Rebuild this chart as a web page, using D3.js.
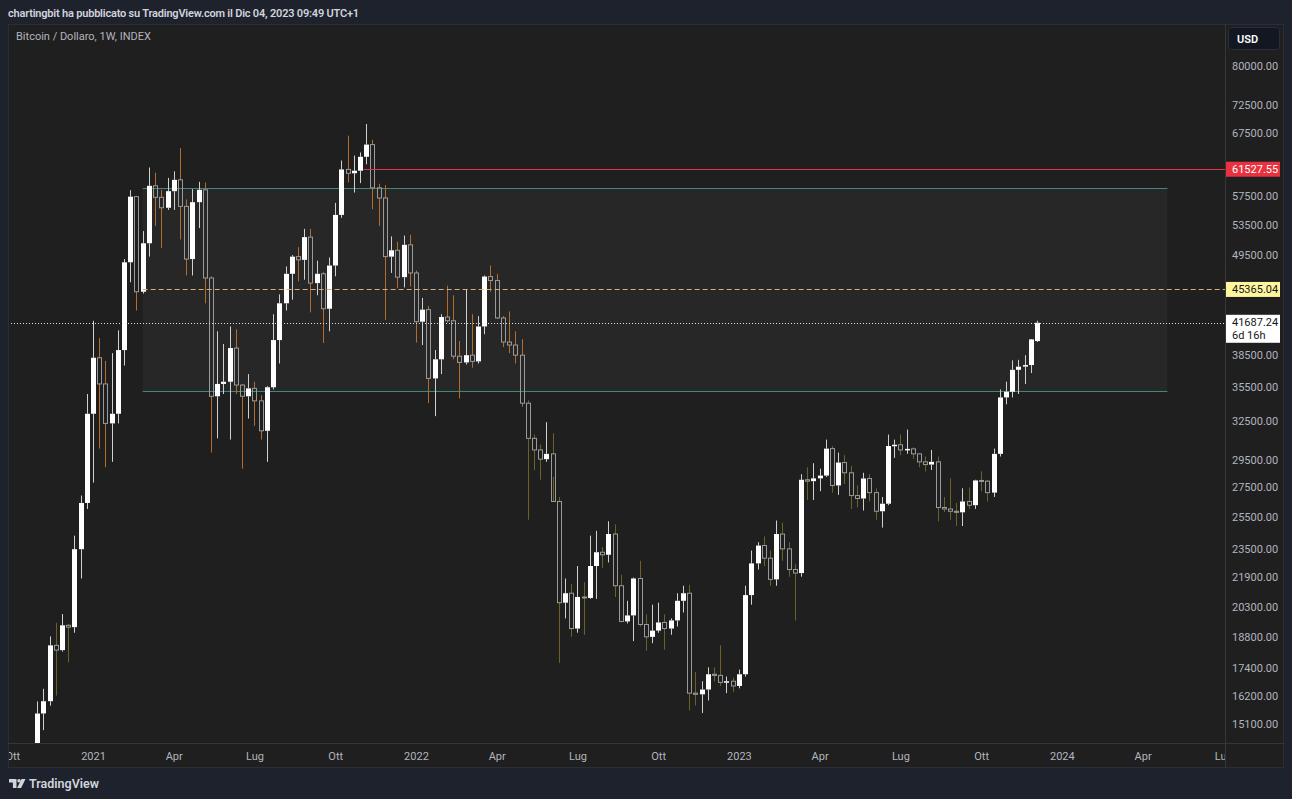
<!DOCTYPE html>
<html>
<head>
<meta charset="utf-8">
<script src="https://cdnjs.cloudflare.com/ajax/libs/d3/7.8.5/d3.min.js"></script>
<style>
    html, body { margin: 0; padding: 0; background: #1e222d; overflow: hidden; }
    svg { display: block; }
</style>
</head>
<body>
<div id="chart"></div>
<script>
"use strict";
(function () {
    // weekly candles: [week start, open, high, low, close]
    const candles2020 = [
        ["2020-11-02", 13760, 15960, 13210, 15480],
        ["2020-11-09", 15480, 16480, 14840, 15970],
        ["2020-11-16", 15970, 18820, 15790, 18400],
        ["2020-11-23", 18400, 19480, 16200, 18180],
        ["2020-11-30", 18180, 19920, 18110, 19360],
        ["2020-12-07", 19360, 19420, 17620, 19270],
        ["2020-12-14", 19270, 24300, 19000, 23480],
        ["2020-12-21", 23480, 26900, 21800, 26400],
        ["2020-12-28", 26400, 34800, 26000, 33100]
    ]
    const candles2021 = [
        ["2021-01-04", 33100, 41900, 27800, 38150],
        ["2021-01-11", 38150, 40100, 30300, 35700],
        ["2021-01-18", 35700, 37850, 28900, 32300],
        ["2021-01-25", 32300, 38600, 29300, 33100],
        ["2021-02-01", 33100, 40900, 32300, 38900],
        ["2021-02-08", 38900, 49000, 37400, 48600],
        ["2021-02-15", 48600, 58350, 46200, 57400],
        ["2021-02-22", 57400, 57500, 43000, 45100],
        ["2021-03-01", 45100, 52600, 44900, 51000],
        ["2021-03-08", 51000, 61800, 49300, 59000],
        ["2021-03-15", 59000, 61000, 53300, 57300],
        ["2021-03-22", 57300, 58400, 50400, 55800],
        ["2021-03-29", 55800, 60200, 55500, 58200],
        ["2021-04-05", 58200, 61200, 55500, 59900],
        ["2021-04-12", 59900, 64900, 51500, 56000],
        ["2021-04-19", 56000, 57000, 47000, 49000],
        ["2021-04-26", 49000, 58500, 47000, 56600],
        ["2021-05-03", 56600, 59600, 53000, 58400],
        ["2021-05-10", 58400, 59500, 43800, 46700],
        ["2021-05-17", 46700, 46900, 30000, 34600],
        ["2021-05-24", 34600, 40800, 31100, 35700],
        ["2021-05-31", 35700, 39500, 34800, 35900],
        ["2021-06-07", 35900, 41300, 31000, 39100],
        ["2021-06-14", 39100, 41000, 34800, 35600],
        ["2021-06-21", 35600, 35700, 28800, 34600],
        ["2021-06-28", 34600, 36600, 32700, 35300],
        ["2021-07-05", 35300, 35900, 32100, 34200],
        ["2021-07-12", 34200, 34700, 31000, 31700],
        ["2021-07-19", 31700, 35500, 29300, 35400],
        ["2021-07-26", 35400, 42600, 35200, 39900],
        ["2021-08-02", 39900, 44800, 37600, 43800],
        ["2021-08-09", 43800, 48100, 43000, 47200],
        ["2021-08-16", 47200, 49500, 44200, 49300],
        ["2021-08-23", 49300, 50500, 46300, 48900],
        ["2021-08-30", 48900, 52900, 46500, 51800],
        ["2021-09-06", 51800, 52900, 42800, 46100],
        ["2021-09-13", 46100, 48800, 44700, 47200],
        ["2021-09-20", 47200, 47400, 39600, 43200],
        ["2021-09-27", 43200, 49200, 40800, 48200],
        ["2021-10-04", 48200, 56500, 46900, 54800],
        ["2021-10-11", 54800, 62900, 54400, 61500],
        ["2021-10-18", 61500, 67000, 59500, 60900],
        ["2021-10-25", 60900, 63700, 58000, 61300],
        ["2021-11-01", 61300, 64200, 59400, 63500],
        ["2021-11-08", 63500, 69000, 62300, 65500],
        ["2021-11-15", 65500, 66300, 55600, 58700],
        ["2021-11-22", 58700, 59300, 53300, 57200],
        ["2021-11-29", 57200, 59100, 42000, 49300],
        ["2021-12-06", 49300, 51900, 47300, 50100],
        ["2021-12-13", 50100, 51200, 45500, 46800],
        ["2021-12-20", 46800, 52000, 45600, 50800],
        ["2021-12-27", 50800, 52100, 45700, 47300]
    ]
    const candles2022 = [
        ["2022-01-03", 47300, 47600, 39650, 41800],
        ["2022-01-10", 41800, 44400, 39400, 43100],
        ["2022-01-17", 43100, 43500, 34000, 36200],
        ["2022-01-24", 36200, 38900, 32900, 38000],
        ["2022-01-31", 38000, 42600, 36600, 42300],
        ["2022-02-07", 42300, 45800, 41700, 41900],
        ["2022-02-14", 41900, 44700, 38000, 38300],
        ["2022-02-21", 38300, 39800, 34400, 37700],
        ["2022-02-28", 37700, 45400, 37500, 38400],
        ["2022-03-07", 38400, 42600, 37200, 37800],
        ["2022-03-14", 37800, 42400, 37600, 41300],
        ["2022-03-21", 41300, 47000, 40500, 46870],
        ["2022-03-28", 46870, 48200, 45100, 46400],
        ["2022-04-04", 46400, 47200, 42100, 42200],
        ["2022-04-11", 42200, 42400, 39200, 39700],
        ["2022-04-18", 39700, 42900, 38600, 39400],
        ["2022-04-25", 39400, 40800, 37600, 38400],
        ["2022-05-02", 38400, 40000, 33700, 34000],
        ["2022-05-09", 34000, 34250, 25300, 31100],
        ["2022-05-16", 31100, 31400, 28700, 30200],
        ["2022-05-23", 30200, 30600, 28000, 29500],
        ["2022-05-30", 29500, 32400, 29300, 29900],
        ["2022-06-06", 29900, 31500, 28200, 26500],
        ["2022-06-13", 26500, 26800, 17600, 20500],
        ["2022-06-20", 20500, 21800, 19700, 21000],
        ["2022-06-27", 21000, 21500, 18800, 19200],
        ["2022-07-04", 19200, 22500, 19000, 20800],
        ["2022-07-11", 20800, 21600, 18900, 20750],
        ["2022-07-18", 20750, 24300, 20700, 22500],
        ["2022-07-25", 22500, 24600, 20700, 23300],
        ["2022-08-01", 23300, 23600, 22400, 23150],
        ["2022-08-08", 23150, 25200, 22700, 24400],
        ["2022-08-15", 24400, 25000, 20800, 21400],
        ["2022-08-22", 21400, 22000, 19500, 19550],
        ["2022-08-29", 19550, 20600, 19450, 19850],
        ["2022-09-05", 19850, 21850, 18600, 21800],
        ["2022-09-12", 21800, 22800, 19300, 19400],
        ["2022-09-19", 19400, 19900, 18150, 18800],
        ["2022-09-26", 18800, 20400, 18500, 19100],
        ["2022-10-03", 19100, 20500, 19000, 19500],
        ["2022-10-10", 19500, 19900, 18200, 19200],
        ["2022-10-17", 19200, 19700, 18900, 19600],
        ["2022-10-24", 19600, 21000, 19300, 20600],
        ["2022-10-31", 20600, 21400, 20000, 21000],
        ["2022-11-07", 21000, 21450, 15600, 16300],
        ["2022-11-14", 16300, 17200, 15800, 16250],
        ["2022-11-21", 16250, 16800, 15500, 16450],
        ["2022-11-28", 16450, 17400, 16000, 17100],
        ["2022-12-05", 17100, 17400, 16800, 17050],
        ["2022-12-12", 17050, 18400, 16600, 16750],
        ["2022-12-19", 16750, 17000, 16300, 16800],
        ["2022-12-26", 16800, 16950, 16350, 16600]
    ]
    const candles2023 = [
        ["2023-01-02", 16600, 17300, 16500, 17100],
        ["2023-01-09", 17100, 21400, 17000, 20900],
        ["2023-01-16", 20900, 23400, 20400, 22650],
        ["2023-01-23", 22650, 23900, 22300, 23700],
        ["2023-01-30", 23700, 24250, 22500, 22950],
        ["2023-02-06", 22950, 23400, 21400, 21750],
        ["2023-02-13", 21750, 25250, 21400, 24400],
        ["2023-02-20", 24400, 25100, 22800, 23500],
        ["2023-02-27", 23500, 23900, 21900, 22300],
        ["2023-03-06", 22300, 22600, 19600, 22100],
        ["2023-03-13", 22100, 28400, 21900, 28000],
        ["2023-03-20", 28000, 28900, 26600, 27900],
        ["2023-03-27", 27900, 29200, 26600, 28100],
        ["2023-04-03", 28100, 28800, 27200, 28300],
        ["2023-04-10", 28300, 31000, 28200, 30300],
        ["2023-04-17", 30300, 30500, 27100, 27600],
        ["2023-04-24", 27600, 30000, 26950, 29250],
        ["2023-05-01", 29250, 29800, 27700, 28500],
        ["2023-05-08", 28500, 29000, 26000, 26900],
        ["2023-05-15", 26900, 27600, 26100, 26700],
        ["2023-05-22", 26700, 28500, 25900, 28090],
        ["2023-05-29", 28090, 28400, 26500, 27100],
        ["2023-06-05", 27100, 27400, 25300, 25850],
        ["2023-06-12", 25850, 26800, 24800, 26350],
        ["2023-06-19", 26350, 31400, 26250, 30500],
        ["2023-06-26", 30500, 31000, 29600, 30600],
        ["2023-07-03", 30600, 31400, 29800, 30200],
        ["2023-07-10", 30200, 31800, 29900, 30280],
        ["2023-07-17", 30280, 30400, 29500, 29900],
        ["2023-07-24", 29900, 29950, 28900, 29300],
        ["2023-07-31", 29300, 29700, 28600, 29100],
        ["2023-08-07", 29100, 30200, 28700, 29300],
        ["2023-08-14", 29300, 29700, 25200, 26100],
        ["2023-08-21", 26100, 26800, 25800, 26000],
        ["2023-08-28", 26000, 28100, 25300, 25850],
        ["2023-09-04", 25850, 26400, 24900, 25780],
        ["2023-09-11", 25780, 27400, 24900, 26500],
        ["2023-09-18", 26500, 27450, 26000, 26250],
        ["2023-09-25", 26250, 28000, 26000, 27950],
        ["2023-10-02", 27950, 28600, 27200, 27900],
        ["2023-10-09", 27900, 28000, 26500, 27100],
        ["2023-10-16", 27100, 30300, 26800, 29900],
        ["2023-10-23", 29900, 35200, 29700, 34500],
        ["2023-10-30", 34500, 35900, 33900, 35000],
        ["2023-11-06", 35000, 37900, 34500, 37000],
        ["2023-11-13", 37000, 37950, 34800, 37300],
        ["2023-11-20", 37300, 38400, 35700, 37450],
        ["2023-11-27", 37450, 38500, 36700, 39970],
        ["2023-12-04", 39800, 41900, 39700, 41687.24]
    ]

    // drawn levels
    const lastPrice = 41687.24
    const lastCountdown = "6d 16h"
    const redLevel = 61527.55
    const redStart = "2021-11-05"
    const dashedLevel = 45365.04
    const dashedStart = "2021-03-01"
    const zoneTop = 58700
    const zoneBottom = 35050
    const zoneStart = "2021-03-01"
    const zoneEnd = "2024-04-29"

    // axes
    const priceTicks = [80000, 72500, 67500, 57500, 53500, 49500, 38500, 35500, 32500,
        29500, 27500, 25500, 23500, 21900, 20300, 18800, 17400, 16200, 15100]
    const timeTicks = ["2020-10-05", "2021-01-04", "2021-04-05", "2021-07-05", "2021-10-04",
        "2022-01-03", "2022-04-04", "2022-07-04", "2022-10-03", "2023-01-02", "2023-04-03",
        "2023-07-03", "2023-10-02", "2024-01-01", "2024-04-01", "2024-07-01"]
    const monthNames = ["Gen", "Feb", "Mar", "Apr", "Mag", "Giu", "Lug", "Ago", "Set", "Ott", "Nov", "Dic"]

    const headerText = "chartingbit ha pubblicato su TradingView.com il Dic 04, 2023 09:49 UTC+1"
    const legendText = "Bitcoin / Dollaro, 1W, INDEX"

    const layout = {
        width: 1292,
        height: 799,
        left: 8,
        top: 24,
        paneRight: 1225,
        paneBottom: 744,
        right: 1284,
        bottom: 768
    }

    const colors = {
        page: "#1e222d",
        pane: "#1f1f1f",
        zone: "#272727",
        zoneLine: "#3f8580",
        grid: "#363636",
        axisText: "#b2b5be",
        upBody: "#ffffff",
        upWick: "#d0d0d0",
        downBorder: "#9a9a9a",
        downWickA: "#b46c2a",
        downWickB: "#6c6226",
        red: "#e8323f",
        dashed: "#cdb07a",
        yellowTag: "#fff59d",
        tagText: "#131722"
    }
    const font = "Roboto, 'Noto Sans', sans-serif"

    const candles = [].concat(candles2020, candles2021, candles2022, candles2023)
        .map((r) => ({ date: new Date(r[0]), open: r[1], high: r[2], low: r[3], close: r[4] }))

    const svg = d3.select("#chart").append("svg")
        .attr("width", layout.width)
        .attr("height", layout.height)
        .style("font-family", font)

    // first weekly bar of 2021 sits under the "2021" label
    const scaleX = d3.scaleUtc()
        .domain([new Date("2021-01-04"), new Date("2023-12-04")])
        .range([93, 1037])

    const scaleY = d3.scaleLog()
        .domain([15100, 80000])
        .range([723.3, 65.7])

    // header
    svg.append("text")
        .attr("x", 8).attr("y", 17)
        .attr("fill", "#d1d4dc")
        .style("font-size", "11px")
        .style("font-weight", 600)
        .style("letter-spacing", "-0.2px")
        .text(headerText)

    // chart frame
    svg.append("rect")
        .attr("x", layout.left + 0.5).attr("y", layout.top + 0.5)
        .attr("width", layout.right - layout.left - 1)
        .attr("height", layout.bottom - layout.top - 1)
        .attr("fill", colors.pane)
        .attr("stroke", "#2a2e39")

    const defs = svg.append("defs")
    defs.append("clipPath").attr("id", "paneClip")
        .append("rect")
        .attr("x", layout.left + 1).attr("y", layout.top + 1)
        .attr("width", layout.paneRight - layout.left - 1)
        .attr("height", layout.paneBottom - layout.top - 1)
    defs.append("clipPath").attr("id", "timeClip")
        .append("rect")
        .attr("x", layout.left + 1).attr("y", layout.paneBottom)
        .attr("width", layout.paneRight - layout.left - 1)
        .attr("height", layout.bottom - layout.paneBottom)

    const pane = svg.append("g").attr("clip-path", "url(#paneClip)")

    // zone rectangle
    pane.append("rect")
        .attr("x", scaleX(new Date(zoneStart)))
        .attr("y", scaleY(zoneTop))
        .attr("width", scaleX(new Date(zoneEnd)) - scaleX(new Date(zoneStart)))
        .attr("height", scaleY(zoneBottom) - scaleY(zoneTop))
        .attr("fill", colors.zone)
    ;[zoneTop, zoneBottom].forEach((p) => {
        pane.append("line")
            .attr("x1", scaleX(new Date(zoneStart))).attr("x2", scaleX(new Date(zoneEnd)))
            .attr("y1", Math.round(scaleY(p)) + 0.5).attr("y2", Math.round(scaleY(p)) + 0.5)
            .attr("stroke", colors.zoneLine)
    })

    // candles
    const px = (d) => Math.round(scaleX(d.date))
    const wickColor = function (d) {
        if (d.close >= d.open) return colors.upWick
        return (d.date >= new Date("2021-01-11") && d.date <= new Date("2022-05-02")) ? colors.downWickA : colors.downWickB
    }
    const g = pane.append("g")
    const bars = g.selectAll(".candle")
        .data(candles)
        .enter()
        .append("g")
        .attr("class", "candle")

    bars.append("line")
        .attr("x1", (d) => px(d) + 0.5).attr("x2", (d) => px(d) + 0.5)
        .attr("y1", (d) => scaleY(d.high))
        .attr("y2", (d) => scaleY(Math.max(d.open, d.close)))
        .attr("stroke", wickColor)
    bars.append("line")
        .attr("x1", (d) => px(d) + 0.5).attr("x2", (d) => px(d) + 0.5)
        .attr("y1", (d) => scaleY(Math.min(d.open, d.close)))
        .attr("y2", (d) => scaleY(d.low))
        .attr("stroke", wickColor)

    bars.filter((d) => d.close >= d.open)
        .append("rect")
        .attr("x", (d) => px(d) - 2)
        .attr("y", (d) => scaleY(d.close))
        .attr("width", 5)
        .attr("height", (d) => Math.max(1.5, scaleY(d.open) - scaleY(d.close)))
        .attr("fill", colors.upBody)

    bars.filter((d) => d.close < d.open)
        .append("rect")
        .attr("x", (d) => px(d) - 1.5)
        .attr("y", (d) => scaleY(d.open))
        .attr("width", 4)
        .attr("height", (d) => Math.max(1, scaleY(d.close) - scaleY(d.open)))
        .attr("fill", "none")
        .attr("stroke", colors.downBorder)

    // red level
    pane.append("line")
        .attr("x1", scaleX(new Date(redStart))).attr("x2", layout.paneRight)
        .attr("y1", Math.round(scaleY(redLevel)) + 0.5).attr("y2", Math.round(scaleY(redLevel)) + 0.5)
        .attr("stroke", colors.red)

    // dashed level
    pane.append("line")
        .attr("x1", scaleX(new Date(dashedStart))).attr("x2", layout.paneRight)
        .attr("y1", Math.round(scaleY(dashedLevel)) + 0.5).attr("y2", Math.round(scaleY(dashedLevel)) + 0.5)
        .attr("stroke", colors.dashed)
        .attr("stroke-dasharray", "5,3")

    // last price line
    pane.append("line")
        .attr("x1", layout.left).attr("x2", layout.paneRight)
        .attr("y1", Math.round(scaleY(lastPrice)) + 0.5).attr("y2", Math.round(scaleY(lastPrice)) + 0.5)
        .attr("stroke", "#e0e0e0")
        .attr("stroke-dasharray", "1,2")

    // legend
    svg.append("text")
        .attr("x", 16).attr("y", 40)
        .attr("fill", colors.axisText)
        .style("font-size", "11px")
        .text(legendText)

    // separators
    svg.append("line")
        .attr("x1", layout.paneRight + 0.5).attr("x2", layout.paneRight + 0.5)
        .attr("y1", layout.top).attr("y2", layout.bottom)
        .attr("stroke", colors.grid)
    svg.append("line")
        .attr("x1", layout.left).attr("x2", layout.right)
        .attr("y1", layout.paneBottom - 0.5).attr("y2", layout.paneBottom - 0.5)
        .attr("stroke", colors.grid)

    // price axis
    const yAxis = d3.axisRight(scaleY)
        .tickValues(priceTicks)
        .tickFormat(d3.format(".2f"))
        .tickSize(0)
        .tickPadding(0)
    const yAxisG = svg.append("g")
        .attr("transform", "translate(1232,0)")
        .call(yAxis)
    yAxisG.select(".domain").remove()
    yAxisG.selectAll("text")
        .attr("fill", colors.axisText)
        .attr("dy", "0.35em")
        .style("font-size", "11px")
        .style("font-family", font)

    // time axis
    const xAxis = d3.axisBottom(scaleX)
        .tickValues(timeTicks.map((d) => new Date(d)))
        .tickFormat((d) => d.getUTCMonth() === 0 ? String(d.getUTCFullYear()) : monthNames[d.getUTCMonth()])
        .tickSize(0)
        .tickPadding(0)
    const xAxisG = svg.append("g")
        .attr("clip-path", "url(#timeClip)")
        .append("g")
        .attr("transform", "translate(0,756)")
        .call(xAxis)
    xAxisG.select(".domain").remove()
    xAxisG.selectAll("text")
        .attr("fill", colors.axisText)
        .attr("dy", "0.35em")
        .style("font-size", "11px")
        .style("font-family", font)

    // price tags
    function tag(price, bg, fg, lines) {
        const cy = scaleY(price)
        const h = lines.length > 1 ? 28 : 15
        const top = lines.length > 1 ? cy - 8 : cy - 7.5
        svg.append("rect")
            .attr("x", 1226).attr("y", top)
            .attr("width", 54).attr("height", h)
            .attr("fill", bg)
        lines.forEach((t, i) => {
            svg.append("text")
                .attr("x", 1232).attr("y", top + 7.5 + i * 13)
                .attr("dy", "0.35em")
                .attr("fill", fg)
                .style("font-size", "11px")
                .text(t)
        })
    }
    tag(redLevel, colors.red, "#ffffff", [d3.format(".2f")(redLevel)])
    tag(dashedLevel, colors.yellowTag, colors.tagText, [d3.format(".2f")(dashedLevel)])
    tag(lastPrice, "#ffffff", colors.tagText, [d3.format(".2f")(lastPrice), lastCountdown])

    // currency button
    svg.append("rect")
        .attr("x", 1228.5).attr("y", 27.5)
        .attr("width", 51).attr("height", 22)
        .attr("rx", 3)
        .attr("fill", "#131722")
        .attr("stroke", "#2a2e39")
    svg.append("text")
        .attr("x", 1237).attr("y", 39)
        .attr("dy", "0.35em")
        .attr("fill", "#ffffff")
        .style("font-size", "11px")
        .style("font-weight", 600)
        .text("USD")

    // TradingView mark
    const logo = svg.append("g").attr("fill", "#d1d4dc")
    logo.append("path").attr("d", "M9,779 h7.5 v9 h-3.6 v-5.6 h-3.9 z")
    logo.append("circle").attr("cx", 19).attr("cy", 780.8).attr("r", 1.7)
    logo.append("path").attr("d", "M21.5,779 h4 l-4.4,9 h-4 z")
    svg.append("text")
        .attr("x", 29).attr("y", 788)
        .attr("fill", "#d1d4dc")
        .style("font-size", "12.5px")
        .style("font-weight", 600)
        .text("TradingView")
})()
</script>
</body>
</html>
